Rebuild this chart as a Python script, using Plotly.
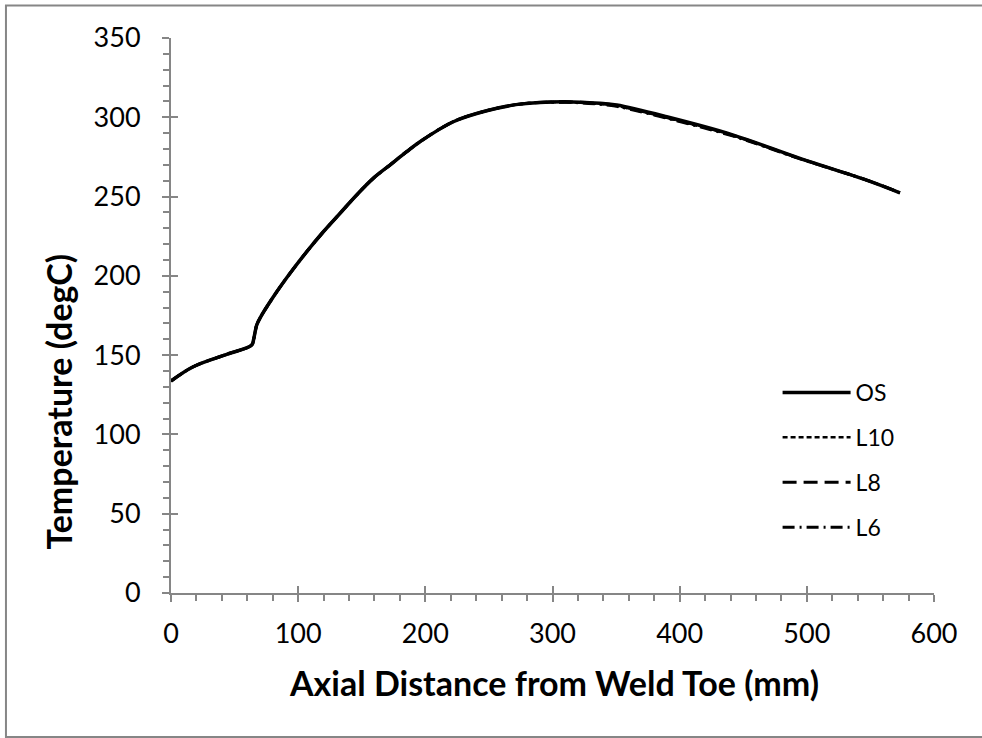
import plotly.graph_objects as go

# ---- data ----
x_mm = [0, 17.5, 43.8, 63.5, 65, 66, 67.4, 70, 80.5, 93.6, 106.7, 119.8, 132.9, 146,
        159, 172.2, 185.3, 195.8, 222, 248.2, 274.4, 308.5, 337.3, 350.5, 389.8,
        442.2, 494.6, 547, 573.2]
t_os = [133.7, 142.7, 150.5, 156.4, 160, 164, 169, 173.4, 186.8, 201.6, 215.2, 227.8,
        239.4, 251, 261.5, 269.9, 278.3, 284.6, 297.2, 304.1, 308.3, 309.8, 308.8,
        307.7, 300.3, 288.8, 274.1, 260.4, 252.4]
t_l10 = [133.7, 142.7, 150.5, 156.4, 160, 164, 169, 173.4, 186.8, 201.6, 215.2, 227.8,
         239.4, 251, 261.5, 269.9, 278.3, 284.6, 297.2, 304.1, 308.3, 309.6, 308.4,
         307.1, 299.6, 288.3, 273.9, 260.4, 252.4]
t_l8 = [133.7, 142.7, 150.5, 156.4, 160, 164, 169, 173.4, 186.8, 201.6, 215.2, 227.8,
        239.4, 251, 261.5, 269.9, 278.3, 284.6, 297.2, 304.1, 308.3, 309.7, 308.6,
        307.4, 299.9, 288.5, 274.0, 260.4, 252.4]
t_l6 = [133.7, 142.7, 150.5, 156.4, 160, 164, 169, 173.4, 186.8, 201.6, 215.2, 227.8,
        239.4, 251, 261.5, 269.9, 278.3, 284.6, 297.2, 304.1, 308.3, 309.5, 308.2,
        306.9, 299.4, 288.1, 273.8, 260.4, 252.4]

series_names = ["OS", "L10", "L8", "L6"]
x_title = "Axial Distance from Weld Toe (mm)"
y_title = "Temperature (degC)"

FONT = "Lato"
AX = "#868686"

fig = go.Figure()
styles = [
    dict(width=3.5, dash="solid"),
    dict(width=2.5, dash="5px,3px"),
    dict(width=3, dash="14px,7px"),
    dict(width=3, dash="12px,5px,2px,5px"),
]
for name, ys, st in zip(series_names, [t_os, t_l10, t_l8, t_l6], styles):
    fig.add_trace(go.Scatter(x=x_mm, y=ys, mode="lines", name=name, legendgroup=name,
                             line=dict(color="black", width=st["width"], dash=st["dash"],
                                       shape="spline", smoothing=1.0)))

common = dict(showgrid=False, zeroline=False, linecolor=AX, linewidth=2,
              tickcolor=AX, tickwidth=2, tickfont=dict(family=FONT, size=27, color="black"))

fig.update_layout(
    width=982, height=738,
    margin=dict(l=171, r=48, t=38, b=145),
    paper_bgcolor="white", plot_bgcolor="white",
    font=dict(family=FONT, color="black"),
    xaxis=dict(range=[0, 600], dtick=100, ticks="outside", ticklen=7,
               minor=dict(dtick=20, ticks="outside", ticklen=6, tickcolor=AX, tickwidth=2),
               ticklabelstandoff=9, **common),
    yaxis=dict(range=[0, 350], dtick=50, ticks="outside", ticklen=7,
               minor=dict(dtick=10, ticks="outside", ticklen=6, tickcolor=AX, tickwidth=2),
               ticklabelstandoff=16, **common),
    xaxis2=dict(overlaying="x", range=[0, 600], dtick=100, ticks="inside", ticklen=7,
                tickcolor=AX, tickwidth=2, showticklabels=False, showgrid=False,
                zeroline=False, showline=False, anchor="y"),
    yaxis2=dict(overlaying="y", range=[0, 350], dtick=50, ticks="inside", ticklen=7,
                tickcolor=AX, tickwidth=2, showticklabels=False, showgrid=False,
                zeroline=False, showline=False, anchor="x"),
    showlegend=True,
    legend=dict(x=0.795, y=0.4, xanchor="left", yanchor="top",
                font=dict(family=FONT, size=23, color="black"),
                bgcolor="rgba(0,0,0,0)", tracegroupgap=12, itemwidth=68),
    annotations=[
        dict(text=x_title, xref="paper", yref="paper", x=0.502, y=-0.162,
             showarrow=False, font=dict(family=FONT, size=34, color="black"),
             xanchor="center", yanchor="middle"),
        dict(text=y_title, xref="paper", yref="paper", x=-0.148, y=0.345,
             showarrow=False, textangle=-90, font=dict(family=FONT, size=34, color="black"),
             xanchor="center", yanchor="middle"),
    ],
    shapes=[dict(type="rect", xref="paper", yref="paper", x0=-0.2163, x1=1.07,
                 y0=-0.2595, y1=1.0586, line=dict(color=AX, width=2), layer="below")],
)
fig.update_annotations(font_weight="bold")

# invisible trace to make the overlay axes render
fig.add_trace(go.Scatter(x=[0], y=[0], xaxis="x2", yaxis="y2", mode="markers",
                         marker=dict(opacity=0), showlegend=False, hoverinfo="skip"))

fig.write_html("out.html")
